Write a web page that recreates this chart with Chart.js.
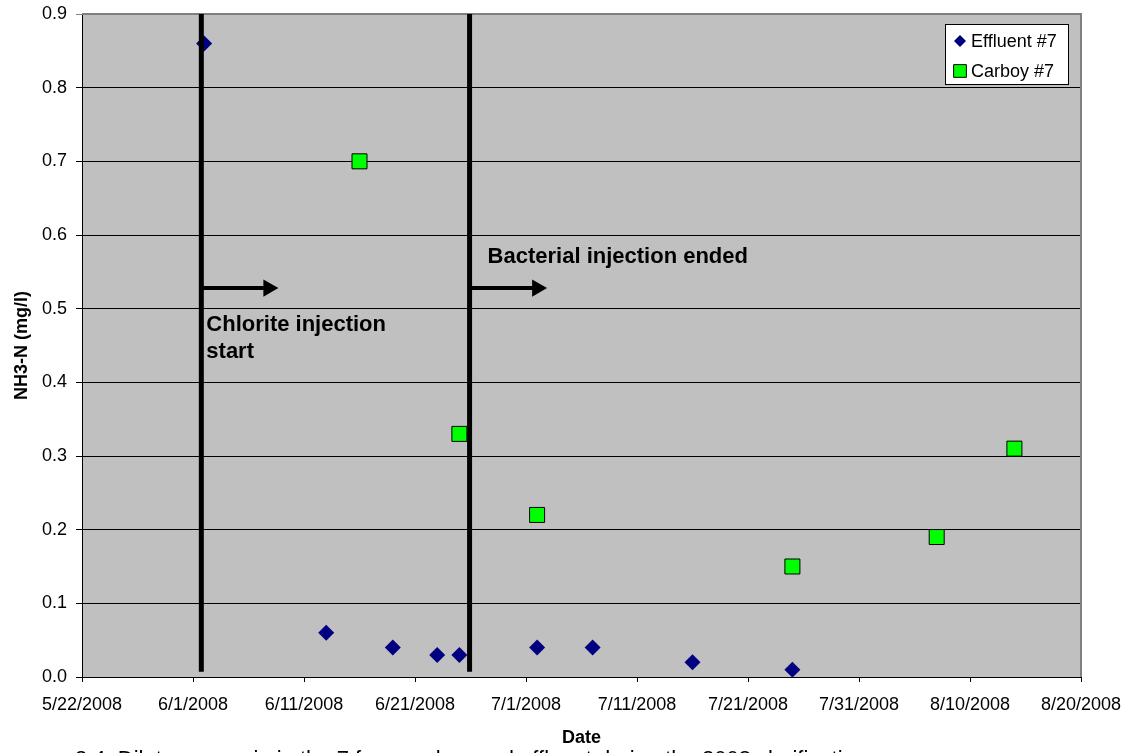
<!DOCTYPE html>
<html>
<head>
<meta charset="utf-8">
<title>NH3-N at well 7</title>
<script src="https://cdn.jsdelivr.net/npm/chart.js@4.4.1/dist/chart.umd.min.js"></script>
<style>
  html, body { margin: 0; padding: 0; background: #ffffff; }
  canvas { display: block; }
</style>
</head>
<body>
<canvas id="chart" width="1137" height="753"></canvas>
<script>
// Sampling dates and NH3-N concentrations (mg/l)
const effluentDates = ['2008-06-02', '2008-06-13', '2008-06-19', '2008-06-23', '2008-06-25',
                       '2008-07-02', '2008-07-07', '2008-07-16', '2008-07-25'];
const effluentValues = [0.86, 0.06, 0.04, 0.03, 0.03, 0.04, 0.04, 0.02, 0.01];

const carboyDates = ['2008-06-16', '2008-06-25', '2008-07-02', '2008-07-25', '2008-08-07', '2008-08-14'];
const carboyValues = [0.70, 0.33, 0.22, 0.15, 0.19, 0.31];

// Event markers (date of the event, vertical extent, arrow end)
const chloriteStart = '2008-06-01T18:00';
const chloriteArrowEnd = '2008-06-07T19:00';
const bacterialEnd = '2008-06-25T22:00';
const bacterialArrowEnd = '2008-07-02T00:00';
const markerRange = [0.007, 0.9];
const arrowLevel = 0.528;

// X axis: days counted from the first tick date
const axisStart = '2008-05-22';
const tickLabels = ['5/22/2008', '6/1/2008', '6/11/2008', '6/21/2008', '7/1/2008',
                    '7/11/2008', '7/21/2008', '7/31/2008', '8/10/2008', '8/20/2008'];
const tickStepDays = 10;

const DAY = 86400000;
const t0 = Date.parse(axisStart + 'T00:00:00Z');
const toDay = s => (Date.parse(s.length > 10 ? s + ':00Z' : s + 'T00:00:00Z') - t0) / DAY;

const pts = (dates, vals) => dates.map((d, i) => ({ x: toDay(d), y: vals[i] }));

const FONT = "'Liberation Sans', Arial, sans-serif";
Chart.defaults.font.family = FONT;
Chart.defaults.color = '#000000';

// Grey plot area, frame lines, caption, text notes and legend box
const decorations = {
  id: 'decorations',
  beforeDraw(chart) {
    const { ctx, chartArea: a } = chart;
    ctx.save();
    ctx.fillStyle = '#c0c0c0';
    ctx.fillRect(a.left, a.top, a.right - a.left, a.bottom - a.top);
    ctx.restore();
  },
  beforeDatasetsDraw(chart) {
    const { ctx, chartArea: a } = chart;
    ctx.save();
    ctx.strokeStyle = '#808080';
    ctx.lineWidth = 2;
    ctx.beginPath();
    ctx.moveTo(a.left, a.top);
    ctx.lineTo(a.right, a.top);
    ctx.lineTo(a.right, a.bottom);
    ctx.stroke();
    ctx.restore();
  },
  afterDraw(chart) {
    const { ctx } = chart;
    const xs = chart.scales.x, ys = chart.scales.y;
    ctx.save();
    ctx.fillStyle = '#000000';
    ctx.textAlign = 'left';
    ctx.textBaseline = 'alphabetic';
    ctx.font = 'bold 22px ' + FONT;
    const cx = xs.getPixelForValue(toDay(chloriteStart)) + 5;
    const cy = ys.getPixelForValue(0.470);
    ctx.fillText('Chlorite injection', cx, cy);
    ctx.fillText('start', cx, cy + 27);
    const bx = xs.getPixelForValue(toDay(bacterialEnd)) + 18;
    const by = ys.getPixelForValue(0.562);
    ctx.fillText('Bacterial injection ended', bx, by);

    // Legend
    const lx = 945, ly = 24, lw = 123, lh = 60;
    ctx.fillStyle = '#ffffff';
    ctx.fillRect(lx, ly, lw, lh);
    ctx.strokeStyle = '#000000';
    ctx.lineWidth = 1;
    ctx.strokeRect(lx + 0.5, ly + 0.5, lw, lh);
    ctx.font = '18px ' + FONT;
    ctx.textBaseline = 'middle';
    ctx.fillStyle = '#000000';
    const items = chart.data.datasets.filter(d => d.legendRow !== undefined);
    items.forEach(d => {
      const rowY = ly + 17 + d.legendRow * 30;
      ctx.save();
      ctx.fillStyle = d.backgroundColor;
      ctx.strokeStyle = d.borderColor;
      ctx.lineWidth = d.borderWidth;
      Chart.helpers.drawPoint(ctx, {
        pointStyle: d.pointStyle,
        radius: d.legendRadius,
        borderWidth: d.borderWidth,
        rotation: 0
      }, lx + 15, rowY);
      ctx.restore();
      ctx.fillText(d.label, lx + 26, rowY + 1);
    });

    // Caption below the chart
    ctx.font = '22px ' + FONT;
    ctx.textBaseline = 'top';
    ctx.fillText('3.4. Dilute ammonia in the 7 from carboy and effluent during the 2008 clarification', 75, 749);
    ctx.restore();
  }
};

const markerLine = (day) => ({
  type: 'line',
  data: [{ x: toDay(day), y: markerRange[0] }, { x: toDay(day), y: markerRange[1] }],
  borderColor: '#000000',
  borderWidth: 5,
  borderCapStyle: 'butt',
  pointRadius: 0,
  order: 0
});

const arrow = (from, to) => ({
  type: 'line',
  data: [{ x: toDay(from), y: arrowLevel }, { x: toDay(to), y: arrowLevel }],
  borderColor: '#000000',
  backgroundColor: '#000000',
  borderWidth: 4,
  borderCapStyle: 'butt',
  pointStyle: 'triangle',
  pointRotation: 90,
  pointRadius: [0, 10],
  pointBorderWidth: 0,
  pointHoverRadius: 0,
  order: 0
});

new Chart(document.getElementById('chart'), {
  type: 'scatter',
  data: {
    datasets: [
      {
        label: 'Effluent #7',
        data: pts(effluentDates, effluentValues),
        pointStyle: 'rectRot',
        pointRadius: 8,
        legendRadius: 6,
        backgroundColor: '#000080',
        borderColor: '#000080',
        borderWidth: 0,
        legendRow: 0,
        order: 1
      },
      {
        label: 'Carboy #7',
        data: pts(carboyDates, carboyValues),
        pointStyle: 'rect',
        pointRadius: 10.6,
        legendRadius: 9,
        backgroundColor: '#00ff00',
        borderColor: '#000000',
        borderWidth: 1,
        legendRow: 1,
        order: 1
      },
      markerLine(chloriteStart),
      markerLine(bacterialEnd),
      arrow(chloriteStart, chloriteArrowEnd),
      arrow(bacterialEnd, bacterialArrowEnd)
    ]
  },
  options: {
    responsive: false,
    animation: false,
    events: [],
    layout: { padding: { top: 14, right: 56, left: 0, bottom: 0 } },
    plugins: { legend: { display: false }, tooltip: { enabled: false } },
    scales: {
      x: {
        type: 'linear',
        min: 0,
        max: tickStepDays * (tickLabels.length - 1),
        afterFit: s => { s.height = 76; },
        afterBuildTicks: s => { s.ticks = tickLabels.map((_, i) => ({ value: i * tickStepDays })); },
        ticks: {
          autoSkip: false,
          maxRotation: 0,
          padding: 12,
          font: { size: 18 },
          color: '#000000',
          callback: (v) => tickLabels[Math.round(v / tickStepDays)]
        },
        grid: { drawOnChartArea: false, drawTicks: true, tickLength: 5, color: '#000000' },
        border: { color: '#000000', width: 1 },
        title: {
          display: true,
          text: 'Date',
          font: { size: 18, weight: 'bold' },
          color: '#000000',
          padding: { top: 0, bottom: 4 }
        }
      },
      y: {
        min: 0,
        max: 0.9,
        afterFit: s => { s.width = 82; s.paddingTop = 0; s.paddingBottom = 0; },
        ticks: {
          stepSize: 0.1,
          padding: 9,
          font: { size: 18 },
          color: '#000000',
          callback: v => v.toFixed(1)
        },
        grid: {
          drawTicks: true,
          tickLength: 6,
          color: c => (c.tick && Math.abs(c.tick.value - 0.9) < 1e-9 ? '#808080' : '#000000'),
          lineWidth: 1
        },
        border: { color: '#000000', width: 1 },
        title: {
          display: true,
          text: 'NH3-N (mg/l)',
          font: { size: 18, weight: 'bold' },
          color: '#000000',
          padding: { top: 11, bottom: 0 }
        }
      }
    }
  },
  plugins: [decorations]
});
</script>
</body>
</html>
